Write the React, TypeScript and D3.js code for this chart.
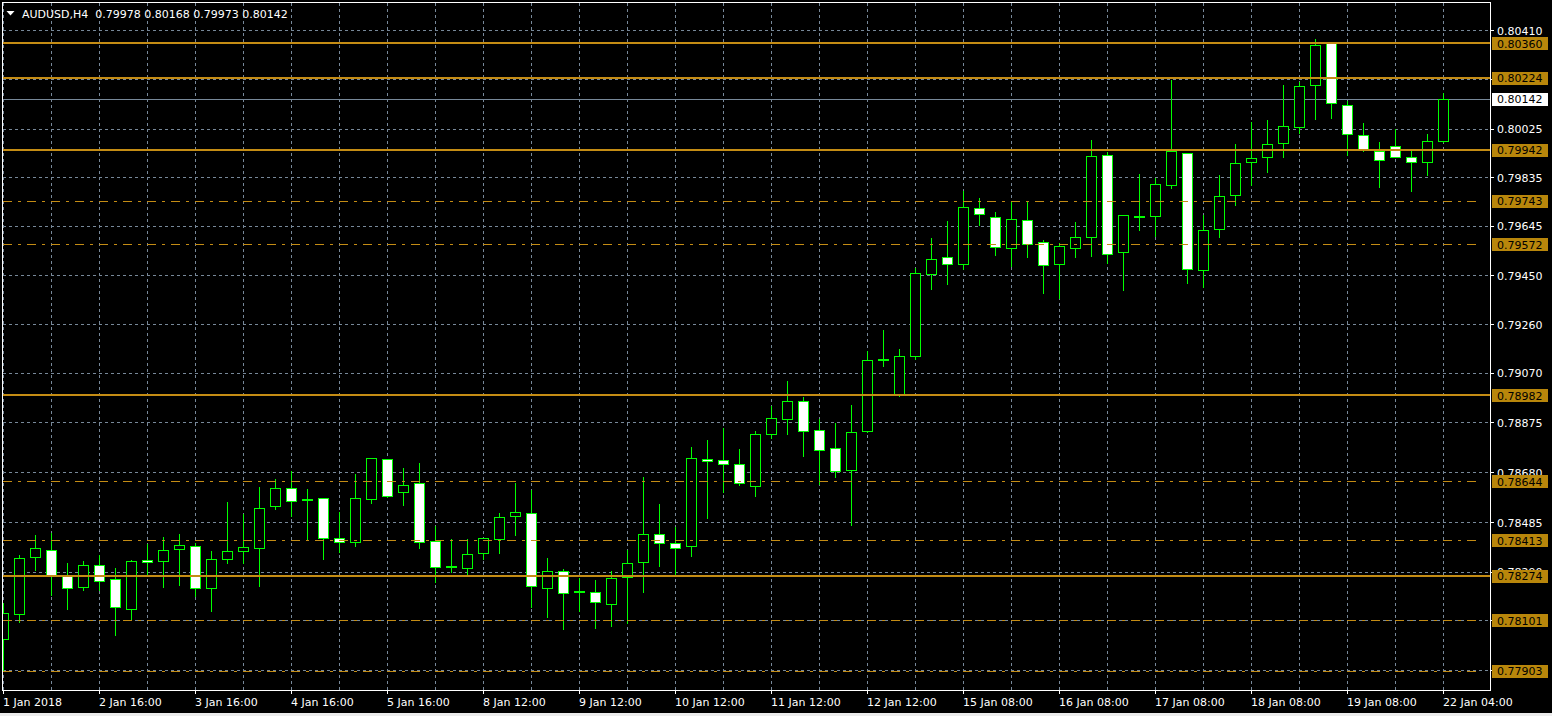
import React from "react";
import * as d3 from "d3";

const symbolTitle = "AUDUSD,H4  0.79978 0.80168 0.79973 0.80142";

const openP = [
  0.78026, 0.78123, 0.78349, 0.78374, 0.78273, 0.78232, 0.78315, 0.7826, 0.78143, 0.78335,
  0.78331, 0.7838, 0.7839, 0.78225, 0.78339, 0.7837, 0.78382, 0.78546, 0.78617, 0.78574,
  0.78578, 0.78421, 0.78408, 0.78576, 0.7873, 0.78603, 0.78636, 0.78409, 0.78312, 0.78304,
  0.78365, 0.78419, 0.78509, 0.78519, 0.78228, 0.78292, 0.78214, 0.7821, 0.78163, 0.78268,
  0.78327, 0.78437, 0.78401, 0.7839, 0.7873, 0.78726, 0.78711, 0.78627, 0.7883, 0.78889,
  0.78957, 0.78844, 0.78773, 0.78687, 0.7884, 0.79123, 0.78982, 0.79133, 0.79455, 0.79521,
  0.79494, 0.79713, 0.79678, 0.79556, 0.79666, 0.7958, 0.79494, 0.79556, 0.79599, 0.7992,
  0.79541, 0.79681, 0.79682, 0.79803, 0.79928, 0.7947, 0.79631, 0.79764, 0.79893, 0.79913,
  0.79967, 0.80032, 0.80197, 0.80359, 0.80116, 0.79999, 0.79936, 0.79956, 0.79913, 0.79893,
  0.79978,
];
const highP = [
  0.7817, 0.7836, 0.78438, 0.78447, 0.78328, 0.78336, 0.7836, 0.78307, 0.78339, 0.78401,
  0.7843, 0.78442, 0.78408, 0.78374, 0.78567, 0.78519, 0.78626, 0.78657, 0.78688, 0.78618,
  0.7858, 0.78528, 0.78675, 0.78738, 0.78734, 0.78699, 0.7872, 0.78472, 0.78421, 0.78421,
  0.78422, 0.78524, 0.78643, 0.78614, 0.78348, 0.78304, 0.78271, 0.78262, 0.78297, 0.78378,
  0.78665, 0.78559, 0.78469, 0.78782, 0.7881, 0.78856, 0.78775, 0.78845, 0.78942, 0.79041,
  0.78978, 0.78892, 0.78876, 0.78947, 0.79158, 0.7924, 0.79166, 0.79482, 0.79599, 0.79667,
  0.79785, 0.79757, 0.79702, 0.7974, 0.79745, 0.79592, 0.7958, 0.79662, 0.79983, 0.79936,
  0.79686, 0.7985, 0.79834, 0.80218, 0.79933, 0.79689, 0.79847, 0.79967, 0.80055, 0.80062,
  0.802, 0.8021, 0.8038, 0.80362, 0.80136, 0.80051, 0.79975, 0.80026, 0.79948, 0.80007,
  0.80168,
];
const lowP = [
  0.77902, 0.78095, 0.78297, 0.78199, 0.78145, 0.78219, 0.78219, 0.78044, 0.78101, 0.78281,
  0.78232, 0.78239, 0.78196, 0.78138, 0.78323, 0.78323, 0.78235, 0.78535, 0.78508, 0.78418,
  0.78341, 0.78369, 0.78391, 0.7856, 0.78582, 0.78551, 0.78384, 0.78251, 0.7829, 0.78277,
  0.78341, 0.78365, 0.78434, 0.78153, 0.78114, 0.78067, 0.78138, 0.78071, 0.78079, 0.78088,
  0.78212, 0.78314, 0.78277, 0.78353, 0.78502, 0.78603, 0.7863, 0.78587, 0.78815, 0.7883,
  0.78744, 0.78632, 0.78662, 0.78474, 0.78837, 0.79097, 0.7898, 0.79122, 0.79396, 0.79418,
  0.79474, 0.79646, 0.79531, 0.79488, 0.79523, 0.79382, 0.79362, 0.79523, 0.79527, 0.79498,
  0.79394, 0.79629, 0.79606, 0.79794, 0.79422, 0.79404, 0.79602, 0.79727, 0.79804, 0.79856,
  0.79915, 0.80009, 0.80064, 0.80068, 0.7992, 0.79939, 0.79797, 0.79912, 0.79782, 0.79844,
  0.79973,
];
const closeP = [
  0.78127, 0.78343, 0.78382, 0.78273, 0.78225, 0.78315, 0.78253, 0.78151, 0.78331, 0.78327,
  0.78374, 0.78394, 0.78225, 0.78339, 0.7837, 0.78386, 0.78538, 0.78617, 0.78566, 0.78575,
  0.78423, 0.78405, 0.78578, 0.78734, 0.78585, 0.78628, 0.78405, 0.78307, 0.78313, 0.78358,
  0.78421, 0.78503, 0.78523, 0.78233, 0.78292, 0.78206, 0.78214, 0.7817, 0.78264, 0.78323,
  0.78437, 0.78401, 0.78382, 0.78734, 0.78722, 0.78711, 0.78636, 0.78828, 0.78891, 0.78957,
  0.7884, 0.78766, 0.78683, 0.78836, 0.79118, 0.79124, 0.79133, 0.79458, 0.79513, 0.79494,
  0.79717, 0.79689, 0.7956, 0.7967, 0.79572, 0.7949, 0.79564, 0.79599, 0.79916, 0.79533,
  0.79685, 0.79682, 0.79807, 0.79936, 0.79474, 0.79628, 0.7976, 0.79889, 0.79909, 0.79963,
  0.80034, 0.8019, 0.80351, 0.80124, 0.80003, 0.79944, 0.79901, 0.79913, 0.79893, 0.79978,
  0.80142,
];

const timeLabels = [
  "1 Jan 2018", "2 Jan 16:00", "3 Jan 16:00", "4 Jan 16:00", "5 Jan 16:00", "8 Jan 12:00",
  "9 Jan 12:00", "10 Jan 12:00", "11 Jan 12:00", "12 Jan 12:00", "15 Jan 08:00",
  "16 Jan 08:00", "17 Jan 08:00", "18 Jan 08:00", "19 Jan 08:00", "22 Jan 04:00",
];
const priceTicks = [
  0.8041, 0.8022, 0.80025, 0.79835, 0.79645, 0.7945, 0.7926, 0.7907, 0.78875, 0.7868,
  0.78485, 0.7829, 0.781, 0.77907,
];
const solidLevels = [0.8036, 0.80224, 0.79942, 0.78982, 0.78274];
const dashLevels = [0.79743, 0.79572, 0.78644, 0.78413, 0.78101, 0.77903];
const bidPrice = 0.80142;

const W = 1552;
const H = 716;
const PL = 2.5, PT = 2.5, PR = 1490.5, PB = 690.5;
const FONT = "'DejaVu Sans', sans-serif";
const LIME = "#00ff00";
const GRID = "#778899";
const LEVEL = "#c48c14";
const LEVEL_BOX = "#b8860b";

export default function App() {
  const n = openP.length;
  const x = d3.scaleLinear().domain([0, n - 1]).range([3.5, 1443.5]);
  const y = d3.scaleLinear().domain([0.77903, 0.8036]).range([670.7, 43]);
  const snap = (v: number) => Math.round(v) + 0.5;
  const gridX = d3.range(0, n, 3);
  const labelIdx = d3.range(0, n, 6);

  return (
    <svg
      width={W}
      height={H}
      style={{ position: "absolute", left: 0, top: 0, background: "#000", display: "block" }}
      fontFamily={FONT}
    >
      <rect x={0} y={0} width={W} height={H} fill="#000" />
      <clipPath id="plot">
        <rect x={PL} y={PT} width={PR - PL} height={PB - PT} />
      </clipPath>

      {/* grid */}
      <g stroke={GRID} strokeWidth={1} strokeDasharray="3,3" shapeRendering="crispEdges">
        {priceTicks.map((p, k) => (
          <line key={"gh" + k} x1={PL} x2={PR} y1={snap(y(p))} y2={snap(y(p))} />
        ))}
        {gridX.map((i) => (
          <line key={"gv" + i} x1={x(i)} x2={x(i)} y1={PT} y2={PB} />
        ))}
      </g>

      {/* bid line */}
      <line x1={PL} x2={PR} y1={snap(y(bidPrice))} y2={snap(y(bidPrice))} stroke={GRID} strokeWidth={1} shapeRendering="crispEdges" />

      {/* candles */}
      <g clipPath="url(#plot)" shapeRendering="crispEdges">
        {openP.map((o, i) => {
          const c = closeP[i];
          const cx = x(i);
          const top = snap(y(Math.max(o, c)));
          let bot = snap(y(Math.min(o, c)));
          if (bot - top < 1) bot = top + 1;
          const bear = c < o;
          return (
            <g key={"c" + i}>
              <line x1={cx} x2={cx} y1={snap(y(highP[i]))} y2={snap(y(lowP[i]))} stroke={LIME} strokeWidth={1} />
              <rect x={cx - 5} y={top} width={10} height={bot - top} fill={bear ? "#fff" : "#000"} stroke={LIME} strokeWidth={1} />
            </g>
          );
        })}
      </g>

      {/* level lines */}
      <g clipPath="url(#plot)">
        {solidLevels.map((p, k) => (
          <line key={"sl" + k} x1={PL} x2={PR} y1={Math.round(y(p))} y2={Math.round(y(p))} stroke={LEVEL} strokeWidth={2} shapeRendering="crispEdges" />
        ))}
        {dashLevels.map((p, k) => (
          <line key={"dl" + k} x1={PL} x2={PR - 12} y1={snap(y(p))} y2={snap(y(p))} stroke={LEVEL} strokeWidth={1} strokeDasharray="9,6,3,6" shapeRendering="crispEdges" />
        ))}
      </g>

      {/* frame */}
      <rect x={PL} y={PT} width={PR - PL} height={PB - PT} fill="none" stroke="#fff" strokeWidth={1} shapeRendering="crispEdges" />

      {/* title */}
      <path d="M6.5,11 L14.5,11 L10.5,15.5 Z" fill="#fff" />
      <text x={22} y={17.5} fill="#fff" fontSize={11} style={{ whiteSpace: "pre" }}>
        {symbolTitle}
      </text>

      {/* right axis */}
      <g fontSize={11} fill="#fff">
        {priceTicks.map((p, k) => (
          <g key={"pt" + k}>
            <line x1={PR} x2={PR + 3} y1={snap(y(p))} y2={snap(y(p))} stroke="#fff" shapeRendering="crispEdges" />
            <text x={1497} y={y(p) + 4.5}>{p.toFixed(5)}</text>
          </g>
        ))}
      </g>
      <g fontSize={11}>
        {[...solidLevels, ...dashLevels].map((p, k) => (
          <g key={"lb" + k}>
            <rect x={1492} y={Math.round(y(p)) - 6} width={56} height={13} fill={LEVEL_BOX} />
            <text x={1497} y={y(p) + 4.5} fill="#000">{p.toFixed(5)}</text>
          </g>
        ))}
        <rect x={1492} y={Math.round(y(bidPrice)) - 6} width={56} height={13} fill="#fff" />
        <text x={1497} y={y(bidPrice) + 4.5} fill="#000">{bidPrice.toFixed(5)}</text>
      </g>

      {/* bottom axis */}
      <g fontSize={11} fill="#fff">
        {labelIdx.map((i, k) => (
          <g key={"tl" + i}>
            <line x1={x(i)} x2={x(i)} y1={PB} y2={PB + 3} stroke="#fff" shapeRendering="crispEdges" />
            <text x={x(i) - 0.5} y={706}>{timeLabels[k]}</text>
          </g>
        ))}
      </g>

      <rect x={0} y={713} width={W} height={3} fill="#ececec" />
    </svg>
  );
}
